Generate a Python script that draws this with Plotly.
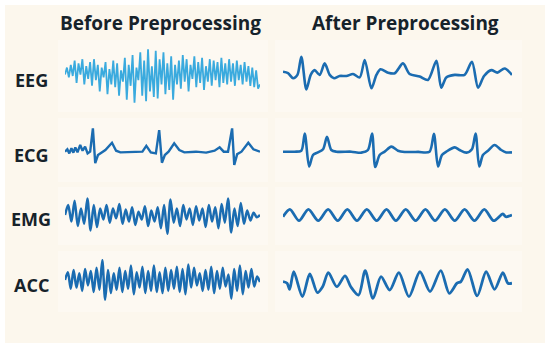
import plotly.graph_objects as go

W, H = 550, 350

LIGHT_BLUE = "#3aaade"
DARK_BLUE = "#1b6cb1"
TEXT_COLOR = "#16222a"
CREAM = "#fcf7ed"
PANEL = "#fdf9f2"

COL_TITLES = ["Before Preprocessing", "After Preprocessing"]
ROW_LABELS = ["EEG", "ECG", "EMG", "ACC"]

# raw signals (sample index -> normalised amplitude)
EEG_BEFORE = [
    0.05, 0.3, -0.05, 0.4, 0.0, 0.55, -0.25, 0.45, 0.05, 0.6, -0.3, 0.35, -0.1, 0.5, -0.35, 0.6,
    -0.15, 0.4, -0.55, 0.3, -0.05, 0.5, -0.65, 0.25, -0.3, 0.55, -0.4, 0.45, -0.7, 0.2,
    -0.2, 0.65, -0.85, 0.4, -0.35, 0.75, -0.95, 0.3, -0.15, 0.85, -0.7, 0.55, -0.9, 0.95,
    -0.55, 0.35, -0.75, 0.9, -0.8, 0.6, -0.3, 0.85, -0.65, 0.45, -0.5, 0.7, -0.85, 0.4,
    -0.3, 0.55, -0.45, 0.75, -0.2, 0.6, -0.55, 0.4, -0.1, 0.7, -0.4, 0.5, -0.25, 0.65,
    -0.5, 0.35, -0.2, 0.6, -0.35, 0.55, -0.15, 0.5, -0.4, 0.65, -0.25, 0.45, -0.3, 0.6,
    -0.2, 0.45, -0.35, 0.55, -0.15, 0.4, -0.3, 0.5, -0.2, 0.35, -0.35, 0.3, -0.4, 0.2, -0.45, -0.3,
]
EMG_BEFORE = [
    0.0, 0.45, -0.3, 0.65, -0.5, 0.3, -0.4, 0.75, -0.7, 0.45, -0.55,
    0.3, -0.2, 0.45, -0.35, 0.3, -0.15, 0.5, -0.4, 0.25, -0.3,
    0.35, -0.45, 0.15, -0.2, 0.4, -0.5, 0.2, -0.3, 0.35, -0.6,
    0.45, -0.85, 0.7, -0.35, 0.3, -0.5, 0.45, -0.2,
    0.3, -0.45, 0.4, -0.25, 0.3, -0.55, 0.45, -0.3, 0.35, -0.6, 0.5, -0.35,
    0.75, -0.8, 0.3, -0.5, 0.55, -0.4, 0.2, -0.25, 0.1, -0.1, 0.0,
]
ACC_BEFORE = [
    0.05, 0.4, -0.35, 0.5, -0.3, 0.35, -0.45, 0.55, -0.2, 0.45, -0.5, 0.6, -0.4, 0.95, -0.85, 0.5, -0.55, 0.35, -0.4, 0.6,
    -0.5, 0.45, -0.35, 0.7, -0.6, 0.4, -0.3, 0.65, -0.55, 0.45, -0.45, 0.7, -0.5, 0.4, -0.55, 0.6, -0.45, 0.5, -0.35, 0.65,
    -0.5, 0.55, -0.6, 0.75, -0.3, 0.6, -0.2, 0.35, -0.45, 0.5, -0.4, 0.65, -0.55, 0.45, -0.35, 0.6, -0.25, 0.3, -0.8, 0.55,
    -0.45, 0.7, -0.6, 0.45, -0.3, 0.55, -0.25, 0.2, -0.05,
]

# ECG before: time (0-100) and amplitude
ECG_BEFORE_T = [0, 1.2, 2.2, 3.3, 4.3, 5.3, 6.4, 7.8, 9, 10.3, 11.6, 12.9, 14.3, 15.5, 16.9, 18.6,
                20.7, 24.1, 26.2, 28.4, 34.5, 39.7, 41.7, 44, 46.6, 48.3, 49.7, 51.2, 53.1, 56,
                58.6, 61.2, 67.2, 72.4, 76.7, 79.3, 81.4, 83.6, 85.7, 86.8, 88.3, 90.5, 94, 96.6, 100]
ECG_BEFORE = [-0.07, 0.03, -0.14, 0.07, -0.11, 0.11, -0.1, 0.21, -0.03, 0.14, -0.14, -0.07, 0.9, -0.55, -0.21, -0.11,
              0.0, 0.3, -0.03, -0.1, -0.1, -0.07, 0.17, -0.1, -0.14, 0.83, -0.53, -0.21, -0.07, 0.28,
              0.0, -0.1, -0.07, -0.11, -0.03, 0.11, -0.07, -0.07, 0.9, -0.62, -0.17, -0.07, 0.3, 0.03, -0.07]

# cleaned signals: time (0-100) and amplitude
EEG_AFTER_T = [0, 2.2, 4.4, 6.3, 8, 10.2, 12.1, 13.8, 16, 18.2, 20.4, 22.3, 24.7, 27.7, 30.6, 33.5,
               35.7, 38.6, 40.8, 42.6, 45.9, 48.8, 52.4, 55.3, 59.7, 63.3, 67, 69.1, 71.3, 75,
               79.3, 82.5, 85.2, 87.8, 91, 93.6, 96.8, 100]
EEG_AFTER = [0.15, 0.1, -0.08, 0.04, 0.69, -0.48, 0.04, 0.21, 0.04, 0.45, 0.04, -0.08, 0.0, 0.0, 0.07, -0.05,
             0.57, -0.44, 0.04, 0.24, 0.12, 0.1, 0.45, 0.07, -0.02, -0.14, 0.54, -0.42, -0.05, 0.04,
             0.04, 0.51, -0.42, 0.0, 0.21, 0.12, 0.27, 0.04]

ECG_AFTER_T = [0, 5.1, 8, 9.5, 11.4, 13.1, 15, 17.5, 19.2, 21.1, 23.3, 29.8, 34.2, 37.1, 38.9, 40.3,
               42.2, 44.4, 47.3, 50.2, 53.1, 59, 64, 65.9, 67.7, 69.4, 71.3, 75, 77.1, 80.1,
               82.5, 84.1, 85.7, 87.3, 89.5, 92.4, 95.3, 97.5, 100]
ECG_AFTER = [-0.07, -0.07, -0.03, 0.69, -0.69, -0.21, -0.11, 0.03, 0.55, 0.0, -0.07, -0.07, -0.11, 0.0, 0.69, -0.71,
             -0.21, -0.07, 0.14, -0.03, -0.08, -0.08, -0.07, 0.67, -0.69, -0.21, -0.07, 0.11, 0.0, -0.11,
             0.03, 0.69, -0.69, -0.21, -0.03, 0.21, 0.0, -0.1, -0.1]

EMG_AFTER_T = [0, 3, 7, 11.1, 15.4, 19.7, 23.9, 28.1, 32.3, 36.6, 40.9, 45.2, 49.3, 53.6, 57.9,
               62.2, 66.4, 70.7, 75, 79.3, 83.6, 87.9, 92, 96, 97.3, 100]
EMG_AFTER = [-0.08, 0.26, -0.26, 0.26, -0.26, 0.26, -0.26, 0.26, -0.26, 0.26, -0.26, 0.26, -0.26, 0.26, -0.26,
             0.26, -0.26, 0.26, -0.26, 0.26, -0.26, 0.26, -0.26, 0.05, -0.08, 0.0]

ACC_AFTER_T = [0, 1.8, 2.9, 4.7, 8.5, 11.7, 15, 17.3, 19.8, 23.5, 27.1, 29.6, 33, 35.9, 39.3, 42.8,
               46.6, 50.6, 55, 59.8, 64.2, 68.9, 72.6, 76, 77.7, 80.6, 84.8, 88.7, 92.4, 96, 98.2, 100]
ACC_AFTER = [-0.03, -0.1, -0.38, 0.42, -0.71, 0.32, -0.53, -0.26, 0.38, -0.26, 0.23, -0.26, -0.64, 0.47, -0.79, 0.2,
             -0.41, 0.38, -0.71, 0.42, -0.48, 0.47, -0.56, -0.1, -0.03, 0.53, -0.68, 0.42, -0.38, 0.38, -0.1, -0.1]

# row geometry in pixels: (top, bottom) of the [-1, 1] band, label y
ROW_BOX = [(48, 104, 80), (126, 174, 155), (193, 237, 219), (259, 303, 285)]
COL_BOX = [(65, 260), (283, 512)]
PANEL_ROWS = [(40, 112), (118, 182), (187, 245), (251, 312)]
PANEL_COLS = [(58, 268), (275, 522)]


def px_x(v):
    return v / W


def px_y(v):
    return 1 - v / H


signals = [
    [(None, EEG_BEFORE, LIGHT_BLUE, 1.8, "linear"), (EEG_AFTER_T, EEG_AFTER, DARK_BLUE, 2.6, "spline")],
    [(ECG_BEFORE_T, ECG_BEFORE, DARK_BLUE, 2.4, "linear"), (ECG_AFTER_T, ECG_AFTER, DARK_BLUE, 2.6, "spline")],
    [(None, EMG_BEFORE, DARK_BLUE, 2.5, "spline"), (EMG_AFTER_T, EMG_AFTER, DARK_BLUE, 2.8, "spline")],
    [(None, ACC_BEFORE, DARK_BLUE, 2.5, "spline"), (ACC_AFTER_T, ACC_AFTER, DARK_BLUE, 2.8, "spline")],
]

fig = go.Figure()
layout = {}
n = 0
for r, row in enumerate(signals):
    top, bottom, _ = ROW_BOX[r]
    for c, (t, y, color, width, shape) in enumerate(row):
        n += 1
        if t is None:
            t = list(range(len(y)))
        suffix = "" if n == 1 else str(n)
        fig.add_trace(go.Scatter(
            x=t, y=y, mode="lines",
            line=dict(color=color, width=width, shape=shape, smoothing=0.8),
            xaxis="x" + suffix, yaxis="y" + suffix,
            hoverinfo="skip", showlegend=False,
        ))
        x0, x1 = COL_BOX[c]
        layout["xaxis" + suffix] = dict(
            domain=[px_x(x0), px_x(x1)], range=[min(t), max(t)],
            visible=False, anchor="y" + suffix,
        )
        layout["yaxis" + suffix] = dict(
            domain=[px_y(bottom), px_y(top)], range=[-1, 1],
            visible=False, anchor="x" + suffix,
        )

fig.update_layout(**layout)

shapes = [dict(type="rect", xref="paper", yref="paper",
               x0=px_x(5), x1=px_x(545), y0=px_y(343), y1=px_y(5),
               fillcolor=CREAM, line=dict(width=0), layer="below")]
for (pt, pb) in PANEL_ROWS:
    for (pl, pr) in PANEL_COLS:
        shapes.append(dict(type="rect", xref="paper", yref="paper",
                           x0=px_x(pl), x1=px_x(pr), y0=px_y(pb), y1=px_y(pt),
                           fillcolor=PANEL, line=dict(width=0), layer="below"))

annotations = []
for c, title in enumerate(COL_TITLES):
    annotations.append(dict(
        text="<b>" + title + "</b>", xref="paper", yref="paper",
        x=px_x(160 if c == 0 else 405), y=px_y(23),
        xanchor="center", yanchor="middle", showarrow=False,
        font=dict(size=19, color=TEXT_COLOR),
    ))
for r, label in enumerate(ROW_LABELS):
    annotations.append(dict(
        text="<b>" + label + "</b>", xref="paper", yref="paper",
        x=px_x(31), y=px_y(ROW_BOX[r][2]),
        xanchor="center", yanchor="middle", showarrow=False,
        font=dict(size=18, color=TEXT_COLOR),
    ))

fig.update_layout(
    width=W, height=H,
    margin=dict(l=0, r=0, t=0, b=0),
    paper_bgcolor="white",
    plot_bgcolor="rgba(0,0,0,0)",
    font=dict(family="Open Sans, Arial", color=TEXT_COLOR),
    shapes=shapes,
    annotations=annotations,
    showlegend=False,
)

# drop the page's default body margin so the figure sits at the window origin
fig.write_html("out.html", config={"displayModeBar": False},
               post_script="document.body.style.margin='0';")
